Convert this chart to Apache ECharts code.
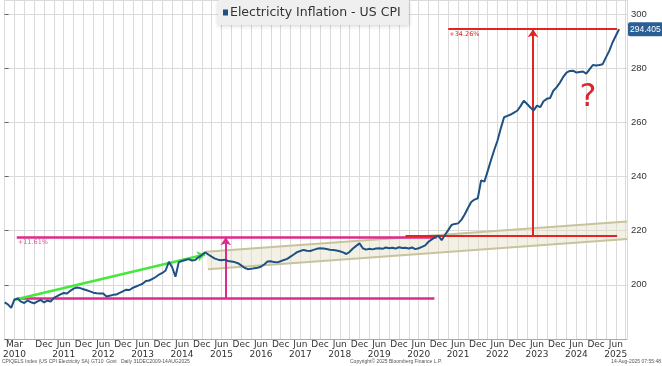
<!DOCTYPE html>
<html>
<head>
<meta charset="utf-8">
<script src="https://cdn.jsdelivr.net/npm/echarts@6/dist/echarts.min.js"></script>
<style>
html,body{margin:0;padding:0;background:#fff;}
#chart{width:662px;height:366px;}
</style>
</head>
<body>
<div id="chart"></div>
<script>
// Months counted from Dec 2009 (t = 0) to Jul 2025 (t = 187)
const startYear = 2009, startMonth = 12;
const cpiValues = [
  193.5,
  192.8, 191.5, 194.6, 194.9, 193.8, 193.3, 194.2, 193.6, 193.2, 193.9, 194.4, 193.5,
  194.2, 193.8, 195.2, 195.8, 196.5, 197.0, 196.8, 197.8, 198.6, 199.0, 198.8, 198.4,
  198.0, 197.6, 197.1, 196.9, 196.8, 196.8, 195.7, 196.0, 196.3, 196.4, 197.0, 197.6,
  198.2, 198.1, 198.9, 199.4, 199.9, 200.4, 201.4, 201.6, 202.2, 202.9, 203.8, 204.4,
  205.3, 208.5, 206.5, 203.0, 208.4, 208.8, 209.2, 209.5, 209.0, 209.2, 210.2, 211.0,
  212.0, 211.2, 210.4, 209.7, 209.3, 209.1, 209.3, 208.8, 208.6, 208.4, 208.0, 207.2,
  206.3, 205.8, 205.9, 206.1, 206.3, 206.7, 207.5, 208.6, 208.7, 208.4, 208.3, 208.7,
  209.2, 209.6, 210.4, 211.2, 212.1, 212.5, 212.9, 212.6, 212.5, 212.9, 213.3, 213.5,
  213.4, 213.2, 213.0, 212.9, 212.7, 212.4, 212.0, 211.4, 212.2, 213.4, 214.4, 215.3,
  213.5, 213.0, 213.3, 213.1, 213.4, 213.5, 213.3, 213.8, 213.5, 213.7, 213.4, 213.9,
  213.6, 213.7, 213.4, 213.8, 213.2, 213.5, 214.0, 214.6, 215.9, 216.8, 217.6, 218.1,
  216.5, 218.4, 220.2, 222.1, 222.5, 222.7, 224.0, 226.0, 228.4, 230.6, 231.5, 232.0,
  238.6, 238.1, 242.0, 246.0, 249.8, 253.3, 257.8, 261.9, 262.4, 262.9, 263.6, 264.3,
  266.0, 268.0, 266.8, 265.5, 264.4, 266.2, 265.6, 267.8, 268.7, 269.0, 271.7, 273.0,
  274.7, 276.8, 278.4, 279.0, 279.1, 278.4, 278.6, 278.8, 278.0, 279.6, 281.2, 281.0,
  281.2, 281.5, 284.0, 286.4, 289.5, 292.0, 294.405
];
const lastValueLabel = '294.405';
const seriesName = 'Electricity Inflation - US CPI';
const yTicks = [200, 220, 240, 260, 280, 300];

// Annotation geometry in data units [month index, index value]
const pinkBase = [[3.7, 194.9], [130.8, 194.9]];
const pinkTop = [[3.7, 217.6], [131.5, 217.6]];
const pinkArrow = [[67.3, 194.9], [67.3, 217.6]];
const greenArrow = [[3.0, 194.5], [61.0, 211.2]];
const channelUpper = [[61.3, 212.2], [189.4, 223.4]];
const channelLower = [[61.9, 205.8], [189.4, 216.9]];
const redBase = [[122.0, 218.3], [186.4, 218.3]];
const redTop = [[135.0, 294.4], [186.4, 294.4]];
const redArrow = [[160.8, 218.3], [160.8, 294.4]];
const pctLabels = ['+11.61%', '+34.26%'];
const questionMark = [177.5, 269.0];

const footLeft = 'CPIQELS Index (US CPI Electricity SA) GT10  Govt   Daily 31DEC2009-14AUG2025';
const footMid = 'Copyright\u00A9 2025 Bloomberg Finance L.P.';
const footRight = '14-Aug-2025 07:55:48';

const lineData = cpiValues.map((v, i) => [i, v]);

function seg(a, style, sym, label) {
  const s0 = {coord: a[0], symbol: sym ? sym[0] : 'none', lineStyle: style};
  if (label) s0.label = label;
  return [s0, {coord: a[1], symbol: sym ? sym[1] : 'none'}];
}
const pink = {color: '#de2a8c', width: 2.5, type: 'solid'};
const pinkThin = {color: '#de2a8c', width: 2, type: 'solid'};
const red = {color: '#e3231f', width: 2, type: 'solid'};
const green = {color: '#45e83c', width: 2.5, type: 'solid'};
const tan = {color: '#c7c39c', width: 2, type: 'solid'};
const smallLbl = (txt, col) => ({show: true, formatter: txt, position: 'insideStartBottom', fontSize: 6.5, color: col, distance: [1, 2], fontFamily: 'DejaVu Sans'});

const chart = echarts.init(document.getElementById('chart'), null, {renderer: 'canvas'});
chart.setOption({
  animation: false,
  backgroundColor: '#ffffff',
  grid: {left: 0, right: 35, top: 0, bottom: 27, containLabel: false},
  legend: {
    data: [seriesName], left: 218, top: 0,
    backgroundColor: '#efefef', padding: [6, 8, 6, 5],
    shadowBlur: 4, shadowColor: 'rgba(0,0,0,0.18)', shadowOffsetY: 1,
    icon: 'rect', itemWidth: 5, itemHeight: 6,
    textStyle: {fontSize: 12.5, color: '#333', fontFamily: 'DejaVu Sans', padding: [0, 0, 0, -3]}
  },
  xAxis: {
    type: 'value', min: 0, max: 189.4, interval: 3,
    axisLine: {show: true, lineStyle: {color: '#aaaaaa'}},
    axisTick: {show: false},
    splitLine: {show: true, lineStyle: {color: '#dadada', width: 1}},
    axisLabel: {
      show: true, showMaxLabel: false, margin: 1, fontSize: 9, lineHeight: 10,
      color: '#333', fontFamily: 'DejaVu Sans',
      formatter: function (t) {
        if (t === 3) return 'Mar\n2010';
        if (t >= 12 && t % 12 === 0) return 'Dec';
        if (t >= 12 && t % 12 === 6) return 'Jun\n' + (startYear + 1 + (t - 6) / 12);
        return '';
      }
    }
  },
  yAxis: {
    type: 'value', position: 'right', min: 180, max: 305.2, interval: 20,
    axisLine: {show: false},
    axisTick: {show: true, length: 4, lineStyle: {color: '#666'}},
    splitLine: {show: true, lineStyle: {color: '#dadada', width: 1}},
    axisLabel: {
      show: true, showMaxLabel: false, margin: 4, fontSize: 9.5, color: '#333', fontFamily: 'Liberation Sans',
      formatter: v => (yTicks.indexOf(v) >= 0 ? String(v) : '')
    }
  },
  series: [
    {
      name: 'channel', type: 'custom', silent: true, z: 1,
      data: [[0, 0]],
      renderItem: function (params, api) {
        const pts = [channelUpper[0], channelUpper[1], channelLower[1], channelLower[0]].map(p => api.coord(p));
        return {type: 'polygon', shape: {points: pts}, style: {fill: 'rgba(228,225,198,0.45)'}};
      }
    },
    {
      name: 'annotations', type: 'line', data: [], z: 3, silent: true,
      markLine: {
        silent: true, animation: false, symbolSize: 8,
        label: {show: false},
        data: [
          seg(channelUpper, tan),
          seg(channelLower, tan),
          seg(pinkBase, pink),
          seg(pinkTop, pink, null, smallLbl(pctLabels[0], '#e0559a')),
          seg(pinkArrow, pinkThin, ['none', 'arrow']),
          seg(greenArrow, green, ['none', 'arrow']),
          seg(redBase, red),
          seg(redTop, red, null, smallLbl(pctLabels[1], '#e3231f')),
          seg(redArrow, red, ['none', 'arrow'])
        ]
      }
    },
    {
      name: seriesName, type: 'line', data: lineData, z: 5,
      showSymbol: false, symbol: 'none',
      color: '#1f5183',
      lineStyle: {color: '#1f5183', width: 2},
      markLine: {
        silent: true, symbol: 'none',
        lineStyle: {color: 'rgba(0,0,0,0)', width: 0, type: 'solid'},
        label: {
          show: true, position: 'end', distance: 1, formatter: lastValueLabel,
          backgroundColor: '#2a5f96', color: '#fff', fontSize: 8.5, fontFamily: 'Liberation Sans',
          padding: [3, 2, 2, 2], borderRadius: 2
        },
        data: [{yAxis: cpiValues[cpiValues.length - 1]}]
      },
      markPoint: {
        silent: true, symbol: 'circle', symbolSize: 0,
        label: {show: true, formatter: '?', fontSize: 32, color: '#d9262b', fontFamily: 'DejaVu Sans', position: 'inside'},
        data: [{coord: questionMark}]
      }
    }
  ],
  graphic: [
    {type: 'text', left: 2, top: 359, style: {text: footLeft, fontSize: 5, fill: '#555', fontFamily: 'Liberation Sans'}},
    {type: 'text', left: 350, top: 359, style: {text: footMid, fontSize: 5, fill: '#555', fontFamily: 'Liberation Sans'}},
    {type: 'text', right: 1, top: 359, style: {text: footRight, fontSize: 5, fill: '#555', fontFamily: 'Liberation Sans'}}
  ]
});
</script>
</body>
</html>
